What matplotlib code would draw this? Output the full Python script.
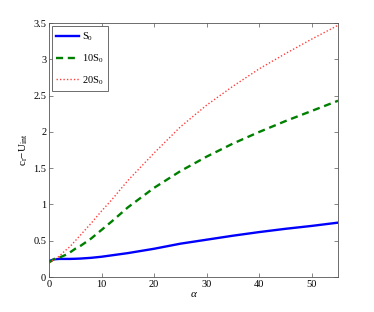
import matplotlib
matplotlib.use("Agg")
import matplotlib.pyplot as plt

plt.rcParams["font.family"] = ["Liberation Serif", "DejaVu Serif"]
plt.rcParams["mathtext.fontset"] = "custom"
plt.rcParams["mathtext.rm"] = "Liberation Serif"
plt.rcParams["mathtext.it"] = "Liberation Serif:italic"

alpha = [0, 1, 2, 3, 4, 5, 6, 8, 10, 12, 15, 20, 25, 30, 35, 40, 45, 50, 55]
s0 = [0.22, 0.245, 0.25, 0.25, 0.25, 0.252, 0.255, 0.265, 0.28, 0.30, 0.33,
      0.39, 0.46, 0.515, 0.57, 0.62, 0.665, 0.705, 0.75]
s0_10 = [0.20, 0.25, 0.27, 0.30, 0.34, 0.39, 0.43, 0.53, 0.65, 0.77, 0.96,
         1.23, 1.46, 1.66, 1.84, 2.0, 2.15, 2.29, 2.43]
s0_20 = [0.20, 0.24, 0.29, 0.36, 0.42, 0.50, 0.58, 0.74, 0.91, 1.07, 1.33,
         1.71, 2.07, 2.37, 2.63, 2.87, 3.08, 3.28, 3.47]
labels = [r"S$_\mathrm{0}$", r"10S$_\mathrm{0}$", r"20S$_\mathrm{0}$"]

fig = plt.figure(figsize=(3.74, 3.12), dpi=100)
ax = fig.add_axes([0.131, 0.112, 0.773, 0.814])

ax.plot(alpha, s0, color="#0000ff", lw=1.7, label=labels[0])
ax.plot(alpha, s0_10, color="#008000", lw=1.7, ls=(0, (3, 2)), label=labels[1])
ax.plot(alpha, s0_20, color="#ff4040", lw=1, ls=(0, (1, 1.5)), label=labels[2])

ax.set_xlim(0, 55)
ax.set_ylim(0, 3.5)
ax.set_xticks([0, 10, 20, 30, 40, 50])
ax.set_yticks([0, 0.5, 1, 1.5, 2, 2.5, 3, 3.5])
ax.set_yticklabels(["0", "0.5", "1", "1.5", "2", "2.5", "3", "3.5"])
ax.tick_params(direction="in", top=True, right=True, labelsize=7.5,
               length=3, width=0.5, color="#555555", pad=2)
for sp in ax.spines.values():
    sp.set_color("#555555")
    sp.set_linewidth(0.6)

ax.set_xlabel(r"$\alpha$", fontsize=8, labelpad=1)
ax.set_ylabel(r"c$_\mathrm{r}$$-$U$_\mathrm{int}$", fontsize=8, labelpad=2)

leg = ax.legend(loc="upper left", fontsize=7.5, handlelength=2.2,
                fancybox=False, edgecolor="#555555", framealpha=1,
                borderaxespad=0.3, labelspacing=0.9, handletextpad=0.3,
                borderpad=0.4)
leg.get_frame().set_linewidth(0.6)

fig.savefig("out.png", dpi=100)
